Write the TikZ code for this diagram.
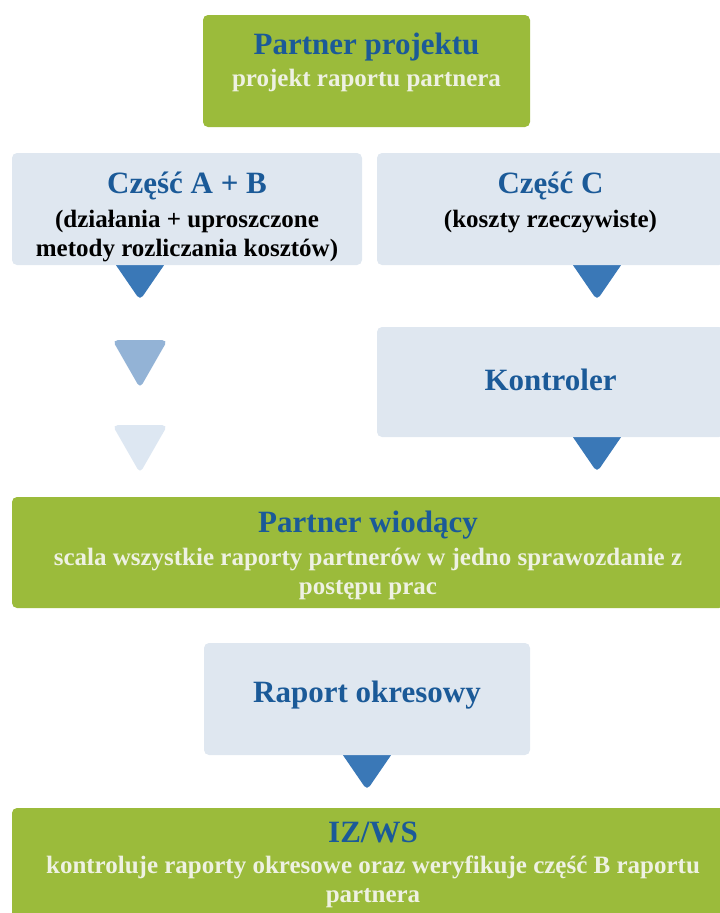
\documentclass[tikz,border=0pt]{standalone}
\usepackage{fontspec}
\setmainfont{Liberation Serif}
\usetikzlibrary{positioning, calc, backgrounds}

\definecolor{boxgreen}{HTML}{9BBB3B}
\definecolor{boxlight}{HTML}{DFE7F0}
\definecolor{titleblue}{HTML}{1B5A98}
\definecolor{paletext}{HTML}{EEF1E2}
\definecolor{tridark}{HTML}{3A78B7}
\definecolor{trimid}{HTML}{93B3D6}
\definecolor{trilight}{HTML}{DDE7F2}

\begin{document}
\begin{tikzpicture}[
    x=1pt, y=-1pt,
    box/.style={rectangle, rounded corners=5pt, inner sep=0pt},
    greenbox/.style={box, fill=boxgreen},
    lightbox/.style={box, fill=boxlight},
    heading/.style={font=\fontsize{31}{36}\selectfont\bfseries, text=titleblue, anchor=base, inner sep=0pt},
    detail/.style={font=\fontsize{25}{29}\selectfont\bfseries, align=center, anchor=north, inner sep=0pt},
    stub/.pic={\fill[rounded corners=5pt] (-29.5,-8) -- (29.5,-8) -- (0,35) -- cycle;},
    pointer/.pic={\fill[rounded corners=5pt] (-27.5,0) -- (27.5,0) -- (0,48) -- cycle;}
]
    \useasboundingbox (0,0) rectangle (720,913);

    % Boxes
    \node[greenbox, minimum width=327, minimum height=112] (pp) at (366.5,71) {};
    \node[lightbox, minimum width=350, minimum height=112] (czAB) at (187,209) {};
    \node[lightbox, minimum width=347, minimum height=112] (czC) at (550.5,209) {};
    \node[lightbox, minimum width=347, minimum height=110] (kontr) at (550.5,382) {};
    \node[greenbox, minimum width=712, minimum height=111] (pw) at (368,552.5) {};
    \node[lightbox, minimum width=326, minimum height=112] (rap) at (367,699) {};
    \node[greenbox, minimum width=722, minimum height=117] (izws) at (373,866.5) {};

    % --- Partner projektu ---
    \node[heading] (ppTitle) at ($(pp.north)+(0,40)$) {Partner projektu};
    \node[detail, text=paletext] at ($(ppTitle.base)+(0,14)$) {projekt raportu partnera};

    % --- Część A + B / Część C ---
    \node[heading] (czABTitle) at ($(czAB.north)+(0,41)$) {Część A + B};
    \node[detail] at ($(czABTitle.base)+(0,16)$) {(działania + uproszczone\\metody rozliczania kosztów)};

    \node[heading] (czCTitle) at ($(czC.north)+(0,41)$) {Część C};
    \node[detail] at ($(czCTitle.base)+(0,16)$) {(koszty rzeczywiste)};

    % --- Kontroler ---
    \node[heading] at ($(kontr.north)+(0,64)$) {Kontroler};

    % --- Partner wiodący ---
    \node[heading] (pwTitle) at ($(pw.north)+(0,36)$) {Partner wiodący};
    \node[detail, text=paletext] at ($(pwTitle.base)+(0,15)$) {scala wszystkie raporty partnerów w jedno sprawozdanie z\\postępu prac};

    % --- Raport okresowy ---
    \node[heading] at ($(rap.north)+(0,60)$) {Raport okresowy};

    % --- IZ/WS ---
    \node[heading] (izwsTitle) at ($(izws.north)+(0,35)$) {IZ/WS};
    \node[detail, text=paletext] at ($(izwsTitle.base)+(0,13)$) {kontroluje raporty okresowe oraz weryfikuje część B raportu\\partnera};

    % Pointers behind the boxes
    \begin{scope}[on background layer]
        \pic[fill=tridark] at ($(czAB.south)+(-47,0)$) {stub};
        \pic[fill=trimid] at ($(czAB.south)+(-47,75)$) {pointer};
        \pic[fill=trilight] at ($(czAB.south)+(-47,160)$) {pointer};
        \pic[fill=tridark] at ($(czC.south)+(46.5,0)$) {stub};
        \pic[fill=tridark] at ($(kontr.south)+(46.5,0)$) {stub};
        \pic[fill=tridark] at (rap.south) {stub};
    \end{scope}

\end{tikzpicture}
\end{document}
